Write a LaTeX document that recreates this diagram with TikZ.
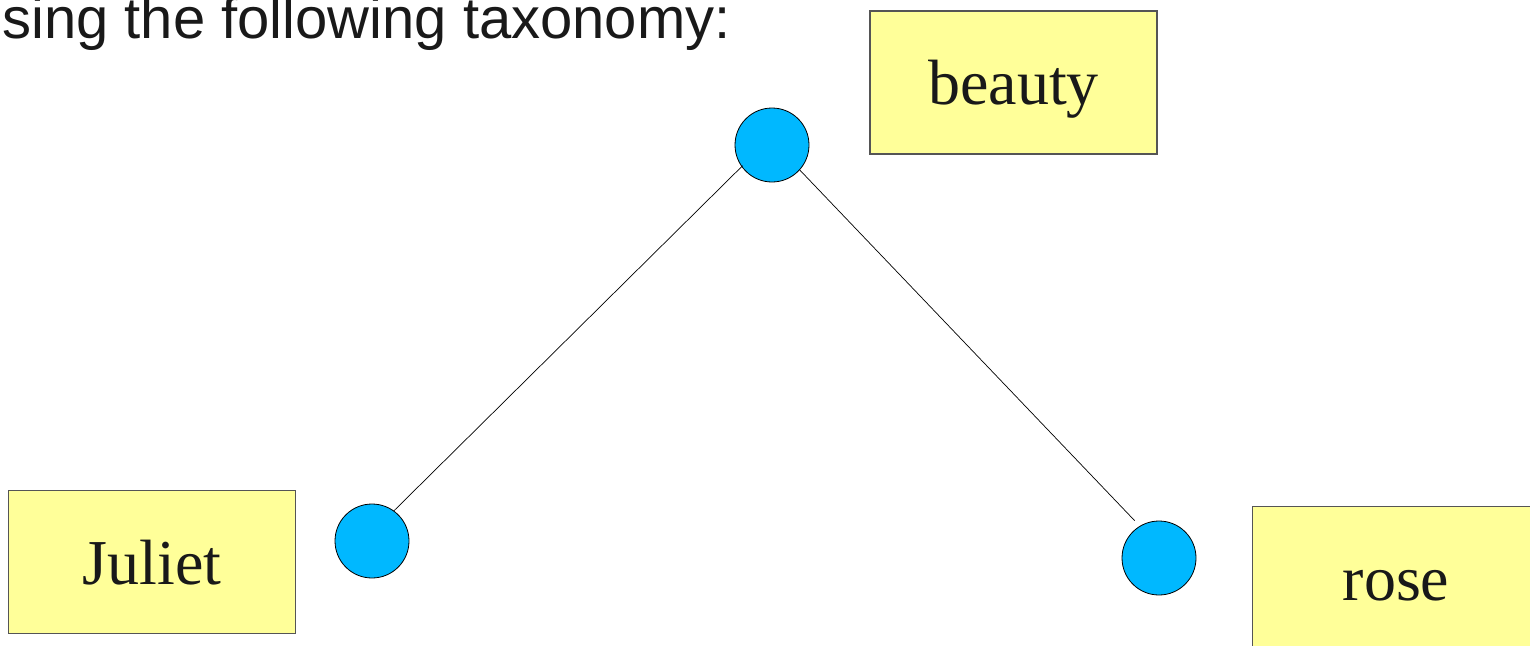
\documentclass[tikz,border=0pt]{standalone}
\usepackage{fontspec}
\setmainfont{Liberation Serif}
\newfontfamily\headfont{Liberation Sans}
\definecolor{boxfill}{HTML}{FFFF99}
\definecolor{boxline}{HTML}{555555}
\definecolor{dotfill}{HTML}{00B8FF}
\begin{document}
\begin{tikzpicture}[x=1pt,y=-1pt,
  termbox/.style={draw=boxline,line width=1.1pt,fill=boxfill,rectangle,
    minimum width=287pt,minimum height=143pt,inner sep=0pt,
    text height=44pt,text depth=0pt,font=\fontsize{64}{70}\selectfont,text=black!90},
  dot/.style={circle,draw=black,line width=0.8pt,fill=dotfill,minimum size=74pt,inner sep=0pt},
  edge/.style={draw=black,line width=0.7pt}]
\useasboundingbox (0,0) rectangle (1530,645);
\clip (0,0) rectangle (1530,645);
\node[anchor=base west,inner sep=0pt,font=\headfont\fontsize{58}{64}\selectfont,text=black!90] (head) at (2,38) {sing the following taxonomy:};
\node[termbox] (beauty) at (1013.5,82.5) {beauty};
\node[termbox] (juliet) at (152,562) {Juliet};
\node[termbox] (rose) at (1396,578) {rose};
\node[dot] (top) at (772,145) {};
\node[dot] (left) at (372,541) {};
\node[dot] (right) at (1159,558) {};
\draw[edge] (left.54) -- ([shift={(3pt,-2pt)}]top.210);
\draw[edge] (top.318) -- ([shift={(-4pt,6pt)}]right.123);
\end{tikzpicture}
\end{document}
